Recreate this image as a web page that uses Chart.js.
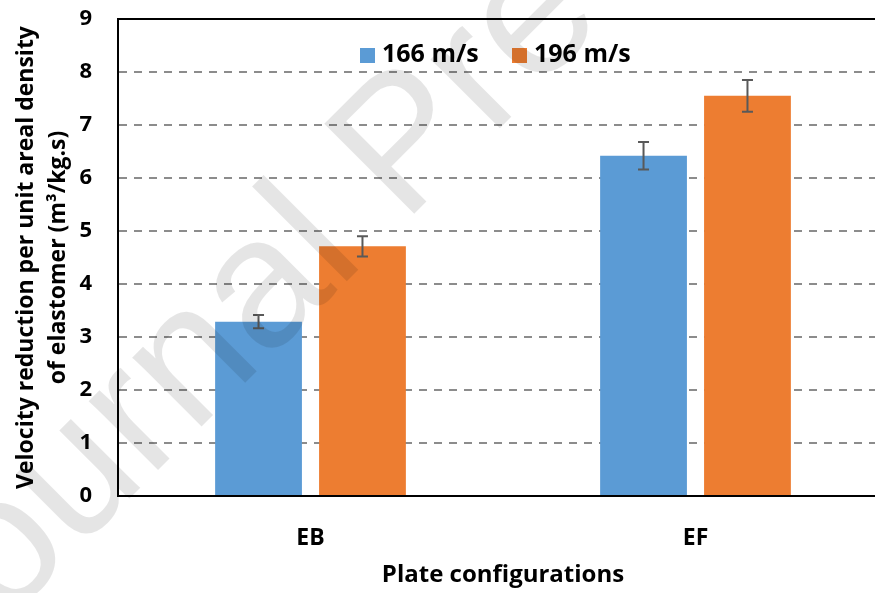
<!DOCTYPE html>
<html>
<head>
<meta charset="utf-8">
<script src="https://cdn.jsdelivr.net/npm/chart.js"></script>
<style>
    html, body { margin: 0; padding: 0; background: #fff; overflow: hidden; }
</style>
</head>
<body>
<canvas id="chart" width="900" height="593"></canvas>
<script>
    // data
    const categories = ['EB', 'EF'];
    const seriesNames = ['166 m/s', '196 m/s'];
    const v166 = [3.29, 6.42];
    const err166 = [0.125, 0.26];
    const v196 = [4.71, 7.55];
    const err196 = [0.19, 0.30];
    const yTicks = [0, 1, 2, 3, 4, 5, 6, 7, 8, 9];

    const BLUE = '#5B9BD5';
    const ORANGE = '#ED7D31';
    const FONT = '"Open Sans", "Noto Sans", sans-serif';

    // error bars + top frame line + legend + watermark
    const extras = {
        id: 'extras',
        afterDatasetsDraw(chart) {
            const ctx = chart.ctx;
            const y = chart.scales.y;
            const errs = [err166, err196];
            ctx.save();
            ctx.strokeStyle = '#595959';
            ctx.lineWidth = 2;
            chart.data.datasets.forEach((ds, i) => {
                chart.getDatasetMeta(i).data.forEach((bar, j) => {
                    const hi = y.getPixelForValue(ds.data[j] + errs[i][j]);
                    const lo = y.getPixelForValue(ds.data[j] - errs[i][j]);
                    ctx.beginPath();
                    ctx.moveTo(bar.x, hi); ctx.lineTo(bar.x, lo);
                    ctx.moveTo(bar.x - 5.5, hi); ctx.lineTo(bar.x + 5.5, hi);
                    ctx.moveTo(bar.x - 5.5, lo); ctx.lineTo(bar.x + 5.5, lo);
                    ctx.stroke();
                });
            });
            ctx.restore();
        },
        afterDraw(chart) {
            const ctx = chart.ctx;
            const a = chart.chartArea;
            ctx.save();
            // top frame
            ctx.strokeStyle = '#000';
            ctx.lineWidth = 2;
            ctx.beginPath();
            ctx.moveTo(a.left - 1, a.top);
            ctx.lineTo(a.right + 20, a.top);
            ctx.stroke();

            // legend inside plot
            ctx.font = 'bold 25px ' + FONT;
            ctx.textBaseline = 'middle';
            ctx.textAlign = 'left';
            const ly = 55;
            const xs = [360, 512];
            chart.data.datasets.forEach((ds, i) => {
                ctx.fillStyle = ds.backgroundColor;
                ctx.fillRect(xs[i], ly - 7, 15, 15);
                ctx.fillStyle = '#000';
                ctx.fillText(ds.label, xs[i] + 22, ly);
            });

            // watermark
            ctx.translate(-62, 690);
            ctx.rotate(-Math.PI / 4);
            ctx.font = '185px "Liberation Sans", sans-serif';
            ctx.fillStyle = 'rgba(0,0,0,0.1)';
            ctx.textBaseline = 'alphabetic';
            ctx.fillText('Journal Pre-proof', 0, 0);
            ctx.restore();
        }
    };

    new Chart(document.getElementById('chart'), {
        type: 'bar',
        data: {
            labels: categories,
            datasets: [
                { label: seriesNames[0], data: v166, backgroundColor: BLUE },
                { label: seriesNames[1], data: v196, backgroundColor: ORANGE }
            ]
        },
        options: {
            responsive: false,
            animation: false,
            devicePixelRatio: 1,
            layout: { padding: { top: 19, right: 12, left: 0, bottom: 0 } },
            categoryPercentage: 0.54,
            barPercentage: 0.835,
            plugins: { legend: { display: false }, tooltip: { enabled: false } },
            scales: {
                x: {
                    grid: { display: false },
                    border: { color: '#000', width: 2 },
                    ticks: { color: '#000', padding: 21, font: { family: FONT, size: 23, weight: 'bold' } },
                    title: {
                        display: true, text: 'Plate configurations', color: '#000',
                        font: { family: FONT, size: 24, weight: 'bold' }, padding: { top: 10, bottom: 3 }
                    },
                    afterFit(s) { s.height = 97; s.paddingLeft = 0; s.paddingRight = 0; }
                },
                y: {
                    min: 0, max: 9,
                    afterBuildTicks(s) { s.ticks = yTicks.map(v => ({ value: v })); },
                    grid: { color: '#8c8c8c', lineWidth: 2, drawTicks: false },
                    border: { color: '#000', width: 2, dash: [8, 7] },
                    ticks: { color: '#000', padding: 26, font: { family: FONT, size: 22, weight: 'bold' } },
                    title: {
                        display: true,
                        text: ['Velocity reduction per unit areal density', 'of elastomer (m\u00b3/kg.s)'],
                        color: '#000', font: { family: FONT, size: 23, weight: 'bold', lineHeight: 1.4 },
                        padding: { top: 10, bottom: 0 }
                    },
                    afterFit(s) { s.width = 118; s.paddingTop = 0; s.paddingBottom = 0; }
                }
            }
        },
        plugins: [extras]
    });
</script>
</body>
</html>
